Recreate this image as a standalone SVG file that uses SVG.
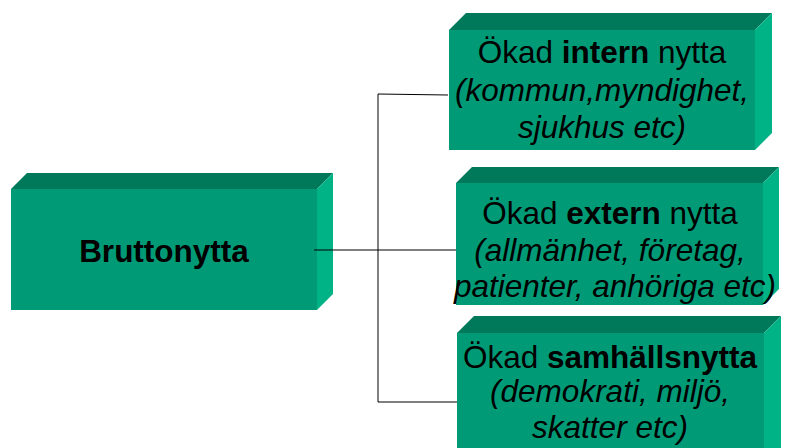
<svg xmlns="http://www.w3.org/2000/svg" width="787" height="448" viewBox="0 0 787 448">
<style>
.front{fill:#009b76}
.top{fill:#00785a}
.side{fill:#00b386}
.t{font-family:"Liberation Sans",Arial,sans-serif;font-size:31.5px;fill:#000;text-anchor:middle}
.b{font-weight:bold}
.i{font-style:italic}
.conn{stroke:#000;stroke-width:1;fill:none}
</style>
<rect width="787" height="448" fill="#fff"/>
<g id="bruttonytta">
<polygon class="top" points="11,189 27,173 333,173 317,189"/>
<polygon class="side" points="317,189 333,173 333,294 317,310"/>
<rect class="front" x="11" y="189" width="306" height="121"/>
<text class="t b" x="164" y="262" font-size="30.5">Bruttonytta</text>
</g>
<g id="intern">
<polygon class="top" points="449,30 466,13 772,13 755,30"/>
<polygon class="side" points="755,30 772,13 772,133 755,150"/>
<rect class="front" x="449" y="30" width="306" height="120"/>
<text class="t" x="602" y="63">Ökad <tspan class="b">intern</tspan> nytta</text>
<text class="t i" x="602" y="101">(kommun,myndighet,</text>
<text class="t i" x="602" y="138">sjukhus etc)</text>
</g>
<g id="extern">
<polygon class="top" points="456,183 472,167 779,167 763,183"/>
<polygon class="side" points="763,183 779,167 779,289 763,305"/>
<rect class="front" x="456" y="183" width="307" height="122"/>
<text class="t" x="610" y="224">Ökad <tspan class="b">extern</tspan> nytta</text>
<text class="t i" x="610" y="261">(allmänhet, företag,</text>
<text class="t i" x="615" y="297">patienter, anhöriga etc)</text>
</g>
<g id="samhalls">
<polygon class="top" points="457,333 474,316 781,316 764,333"/>
<polygon class="side" points="764,333 781,316 781,450 764,460"/>
<rect class="front" x="457" y="333" width="307" height="130"/>
<text class="t" x="610" y="368">Ökad <tspan class="b">samhällsnytta</tspan></text>
<text class="t i" x="610" y="402">(demokrati, miljö,</text>
<text class="t i" x="610" y="438">skatter etc)</text>
</g>
<g id="connectors">
<polyline class="conn" points="448,95 378,94 378,402 457,402"/>
<line class="conn" x1="314" y1="250" x2="456" y2="250"/>
</g>
</svg>
